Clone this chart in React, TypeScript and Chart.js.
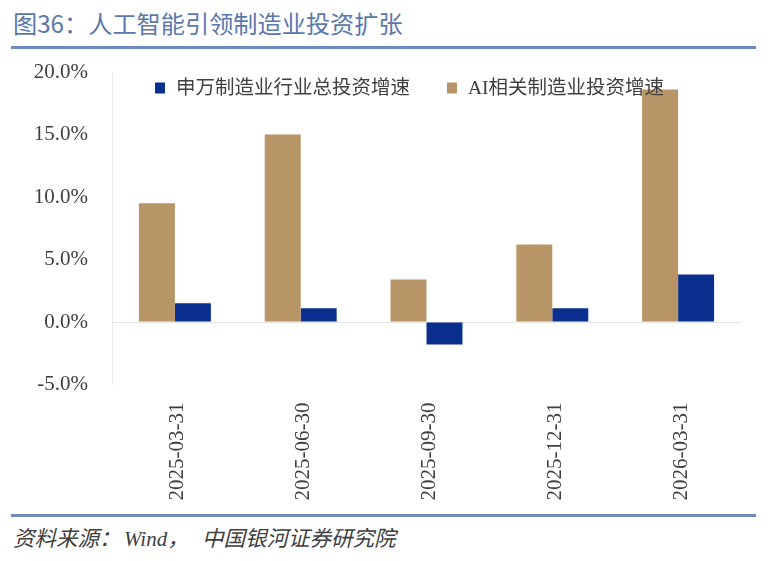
import React, { useEffect, useRef } from "react";
import { Chart, registerables } from "chart.js";

Chart.register(...registerables);

// Report dates on the category axis
const categories = ["2025-03-31", "2025-06-30", "2025-09-30", "2025-12-31", "2026-03-31"];
// AI-related manufacturing investment growth, %
const aiGrowth = [9.5, 15.0, 3.4, 6.2, 18.6];
// Shenwan manufacturing total investment growth, %
const swGrowth = [1.5, 1.1, -1.8, 1.1, 3.8];
// Value-axis ticks, %
const yTicks = [-5, 0, 5, 10, 15, 20];

const seriesNames = ["申万制造业行业总投资增速", "AI相关制造业投资增速"];
const TAN = "#B89567";
const BLUE = "#0A2F8F";
const TEXT = "#404040";
const RULE = "#6F8BBD";

const SERIF = '"Liberation Serif", "Times New Roman", serif';
const CJK = '"Noto Sans CJK SC", sans-serif';
const legendFont = '"Liberation Serif", "Noto Sans CJK SC", serif';

// Legend drawn inside the plot area, top-left, blue series listed first
const insideLegend = {
  id: "insideLegend",
  afterDraw(chart: any) {
    const { ctx, chartArea } = chart;
    const items = [
      { text: seriesNames[0], color: BLUE },
      { text: seriesNames[1], color: TAN },
    ];
    ctx.save();
    ctx.font = `19.5px ${legendFont}`;
    ctx.textBaseline = "middle";
    ctx.textAlign = "left";
    let x = chartArea.left + 43;
    const y = chartArea.top + 16;
    for (const it of items) {
      ctx.fillStyle = it.color;
      ctx.fillRect(x, y - 5.5, 10, 11);
      x += 21;
      ctx.fillStyle = TEXT;
      ctx.fillText(it.text, x, y + 1);
      x += ctx.measureText(it.text).width + 37;
    }
    ctx.restore();
  },
};

const sourceStyle: React.CSSProperties = {
  position: "absolute",
  top: 523,
  fontStyle: "italic",
  fontSize: 21.5,
  lineHeight: "28px",
  color: TEXT,
  whiteSpace: "nowrap",
  fontFamily: CJK,
};

export default function App() {
  const canvasRef = useRef<HTMLCanvasElement | null>(null);

  useEffect(() => {
    if (!canvasRef.current) return;
    const chart = new Chart(canvasRef.current, {
      type: "bar",
      data: {
        labels: categories,
        datasets: [
          { label: seriesNames[1], data: aiGrowth, backgroundColor: TAN, borderWidth: 0 },
          { label: seriesNames[0], data: swGrowth, backgroundColor: BLUE, borderWidth: 0 },
        ],
      },
      options: {
        responsive: false,
        animation: false,
        devicePixelRatio: 1,
        layout: { padding: { top: 17, right: 27, left: 0, bottom: 0 } },
        datasets: { bar: { categoryPercentage: 0.572, barPercentage: 1 } },
        plugins: {
          legend: { display: false },
          tooltip: { enabled: false },
          title: { display: false },
        },
        scales: {
          x: {
            grid: { display: false },
            border: { display: false },
            ticks: {
              autoSkip: false,
              minRotation: 90,
              maxRotation: 90,
              padding: 10,
              labelOffset: 3,
              color: TEXT,
              font: { family: SERIF, size: 21 },
            },
            afterFit(scale: any) {
              scale.height = 125.5;
              scale.paddingLeft = 0;
              scale.paddingRight = 0;
            },
          },
          y: {
            min: -5,
            max: 20,
            afterBuildTicks(scale: any) {
              scale.ticks = yTicks.map((v) => ({ value: v }));
            },
            grid: {
              drawTicks: false,
              color: (c: any) => (c.tick && c.tick.value === 0 ? "#E3E3E3" : "rgba(0,0,0,0)"),
              lineWidth: 1,
            },
            border: { display: true, color: "#EBEBEB" },
            ticks: {
              padding: 24,
              color: TEXT,
              font: { family: SERIF, size: 21 },
              callback: (v: any) => Number(v).toFixed(1) + "%",
            },
            afterFit(scale: any) {
              scale.width = 112;
              scale.paddingTop = 0;
              scale.paddingBottom = 0;
            },
          },
        },
      },
      plugins: [insideLegend],
    });
    return () => chart.destroy();
  }, []);

  return (
    <div
      style={{
        position: "absolute",
        left: 0,
        top: 0,
        width: 768,
        height: 561,
        background: "#fff",
        overflow: "hidden",
      }}
    >
      <div
        style={{
          position: "absolute",
          left: 13,
          top: 8,
          fontFamily: CJK,
          fontSize: 24.2,
          lineHeight: "30px",
          color: "#5B77AD",
          whiteSpace: "nowrap",
        }}
      >
        图36：人工智能引领制造业投资扩张
      </div>
      <div style={{ position: "absolute", left: 11, top: 46, width: 745, height: 3, background: RULE }} />
      <canvas
        ref={canvasRef}
        width={768}
        height={455}
        style={{ position: "absolute", left: 0, top: 55, width: 768, height: 455 }}
      />
      <div style={{ position: "absolute", left: 11, top: 514, width: 745, height: 3, background: RULE }} />
      <span style={{ ...sourceStyle, left: 13 }}>资料来源：</span>
      <span style={{ ...sourceStyle, left: 124 }}>
        <span style={{ fontFamily: SERIF, fontSize: 21 }}>Wind</span>，
      </span>
      <span style={{ ...sourceStyle, left: 202 }}>中国银河证券研究院</span>
    </div>
  );
}
